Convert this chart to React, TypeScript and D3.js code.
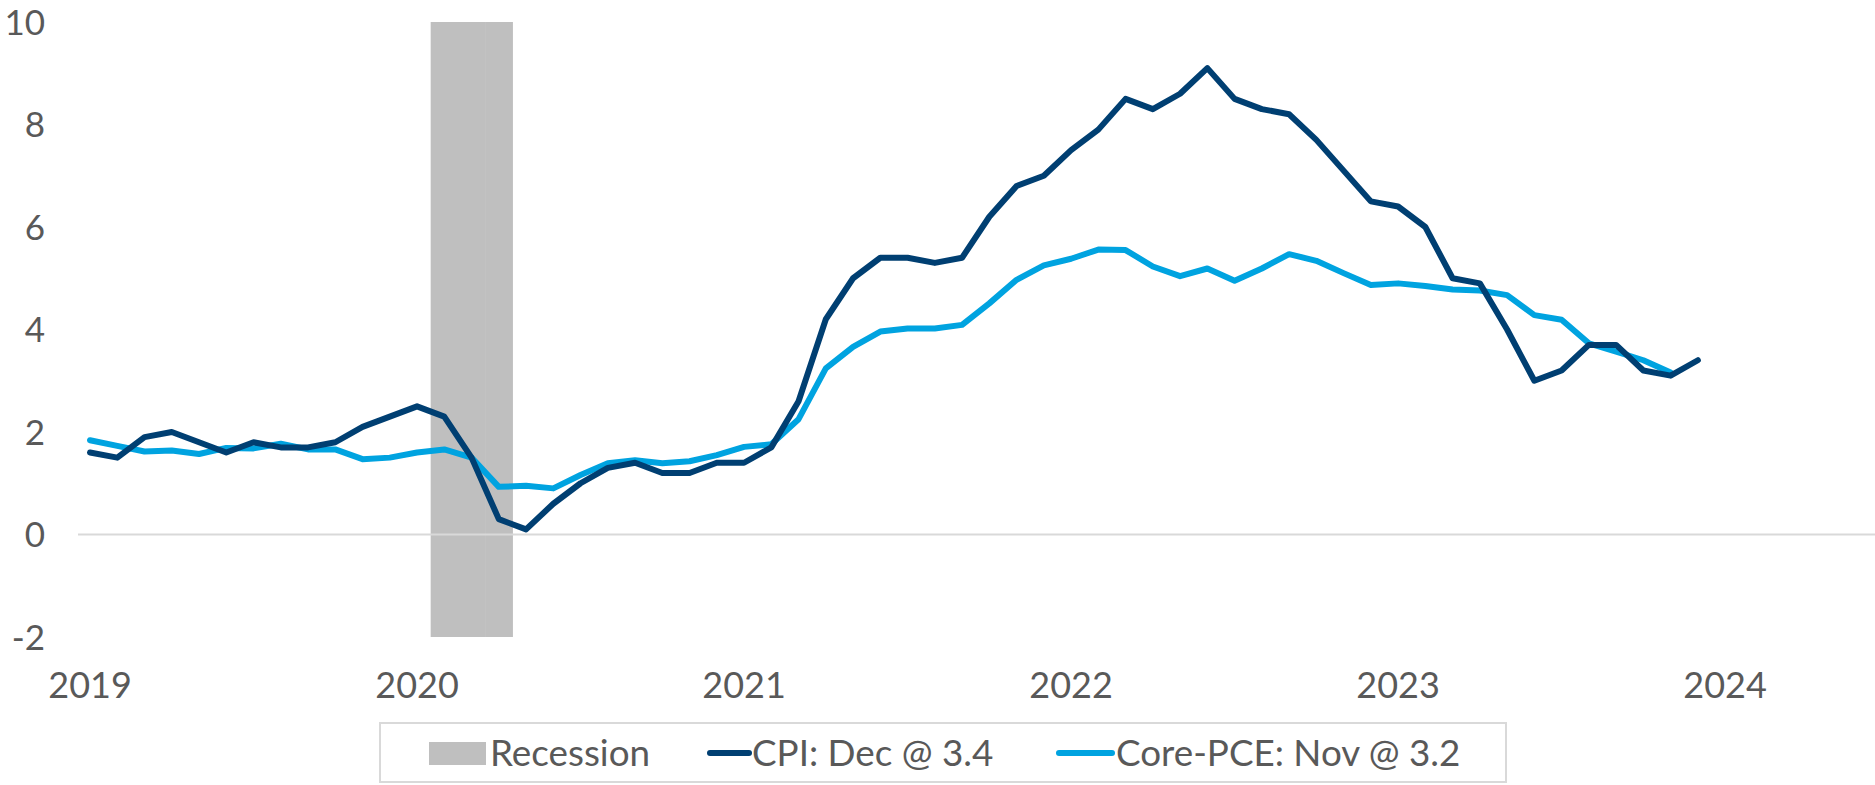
import React from 'react';
import * as d3 from 'd3';

// months Jan 2019 .. Jun 2024 (axis categories)
const months: string[] = [];
for (let y = 2019; y <= 2024; y++) {
  for (let m = 1; m <= 12; m++) {
    if (y === 2024 && m > 6) break;
    months.push(`${y}-${String(m).padStart(2, '0')}`);
  }
}

const cpi = [
  1.6, 1.5, 1.9, 2.0, 1.8, 1.6, 1.8, 1.7, 1.7, 1.8, 2.1, 2.3,
  2.5, 2.3, 1.5, 0.3, 0.1, 0.6, 1.0, 1.3, 1.4, 1.2, 1.2, 1.4,
  1.4, 1.7, 2.6, 4.2, 5.0, 5.4, 5.4, 5.3, 5.4, 6.2, 6.8, 7.0,
  7.5, 7.9, 8.5, 8.3, 8.6, 9.1, 8.5, 8.3, 8.2, 7.7, 7.1, 6.5,
  6.4, 6.0, 5.0, 4.9, 4.0, 3.0, 3.2, 3.7, 3.7, 3.2, 3.1, 3.4,
];

const corePce = [
  1.84, 1.73, 1.62, 1.64, 1.57, 1.69, 1.68, 1.77, 1.66, 1.66, 1.47, 1.5,
  1.6, 1.66, 1.5, 0.93, 0.95, 0.9, 1.16, 1.39, 1.45, 1.39, 1.43, 1.55,
  1.71, 1.76, 2.25, 3.24, 3.66, 3.96, 4.02, 4.02, 4.09, 4.51, 4.97, 5.25,
  5.38, 5.56, 5.55, 5.23, 5.04, 5.19, 4.95, 5.19, 5.47, 5.34, 5.1, 4.87,
  4.9, 4.85, 4.78, 4.76, 4.67, 4.28, 4.19, 3.73, 3.57, 3.4, 3.16,
];

const recessionMonths = ['2020-02', '2020-03', '2020-04'];
const yTicks = [-2, 0, 2, 4, 6, 8, 10];
const yearLabels = ['2019', '2020', '2021', '2022', '2023', '2024'];

const W = 1875;
const H = 785;
const CPI_COLOR = '#003f72';
const PCE_COLOR = '#00a3e0';
const TEXT = '#595959';
const FONT = 'Lato, "Open Sans", sans-serif';

export default function App() {
  const x = d3.scaleBand<string>().domain(months).range([76.4, W]).padding(0);
  const bw = x.bandwidth();
  const cx = (i: number) => (x(months[i]) as number) + bw / 2;
  const y = d3.scaleLinear().domain([-2, 10]).range([637, 22]);

  const line = d3
    .line<number>()
    .x((_, i) => cx(i))
    .y((d) => y(d));

  return (
    <svg
      width={W}
      height={H}
      style={{ position: 'absolute', left: 0, top: 0, background: '#fff' }}
      fontFamily={FONT}
    >
      {recessionMonths.map((m) => (
        <rect
          key={m}
          x={x(m)}
          y={y(10)}
          width={bw + 0.5}
          height={y(-2) - y(10)}
          fill="#bfbfbf"
        />
      ))}

      <line x1={78} x2={W} y1={y(0)} y2={y(0)} stroke="#d9d9d9" strokeWidth={2} />

      {yTicks.map((t) => (
        <text
          key={t}
          x={45}
          y={y(t)}
          dy="0.36em"
          textAnchor="end"
          fontSize={35}
          fill={TEXT}
        >
          {t}
        </text>
      ))}

      {yearLabels.map((yr) => (
        <text
          key={yr}
          x={(x(`${yr}-01`) as number) + bw / 2}
          y={698}
          textAnchor="middle"
          fontSize={36}
          fill={TEXT}
        >
          {yr}
        </text>
      ))}

      <path
        d={line(corePce) || ''}
        fill="none"
        stroke={PCE_COLOR}
        strokeWidth={6}
        strokeLinejoin="round"
        strokeLinecap="round"
      />
      <path
        d={line(cpi) || ''}
        fill="none"
        stroke={CPI_COLOR}
        strokeWidth={6}
        strokeLinejoin="round"
        strokeLinecap="round"
      />

      {/* legend */}
      <rect x={380} y={723} width={1126} height={59} fill="#fff" stroke="#d9d9d9" strokeWidth={2} />
      <rect x={429} y={742} width={57} height={23} fill="#bfbfbf" />
      <text x={490} y={766} fontSize={36.8} fill={TEXT}>
        Recession
      </text>
      <line x1={710} x2={749} y1={753} y2={753} stroke={CPI_COLOR} strokeWidth={6} strokeLinecap="round" />
      <text x={752} y={766} fontSize={36.8} fill={TEXT}>
        CPI: Dec @ 3.4
      </text>
      <line x1={1059} x2={1112} y1={753} y2={753} stroke={PCE_COLOR} strokeWidth={6} strokeLinecap="round" />
      <text x={1116} y={766} fontSize={36.8} fill={TEXT}>
        Core-PCE: Nov @ 3.2
      </text>
    </svg>
  );
}
